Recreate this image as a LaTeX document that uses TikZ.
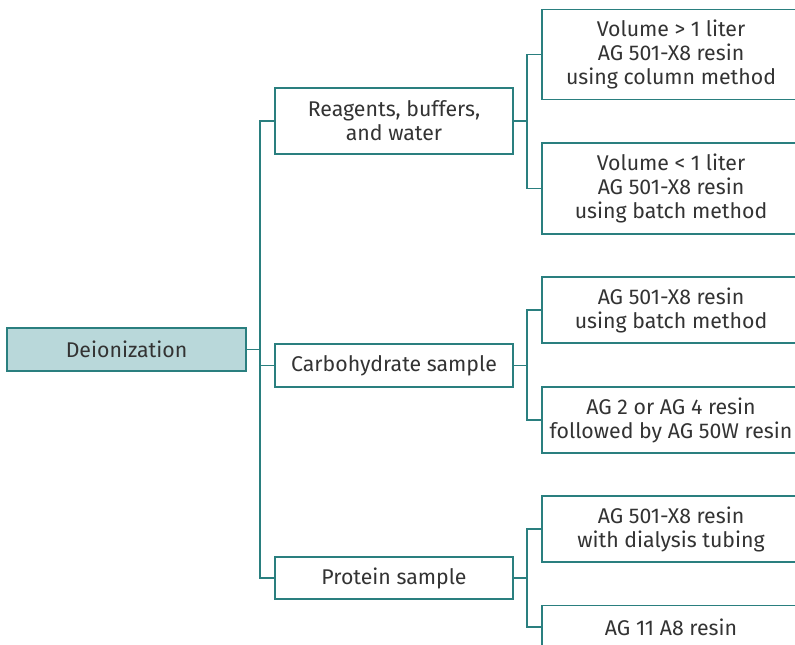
\documentclass[tikz,border=0pt]{standalone}
\usepackage{fontspec}
\setmainfont{Fira Sans}
\definecolor{teal1}{HTML}{2A7F7F}
\definecolor{fillA}{HTML}{B9D8DA}
\definecolor{txt}{HTML}{333333}
\begin{document}
\begin{tikzpicture}[x=1pt,y=-1pt,
  box/.style={draw=teal1,line width=1.4pt,fill=white,text=txt,align=center,inner sep=0pt,
    font=\fontsize{21.3}{24}\selectfont},
  midbox/.style={box,minimum width=238pt},
  rbox/.style={box,minimum width=258pt},
  conn/.style={draw=teal1,line width=1.4pt}]
\useasboundingbox (0,0) rectangle (795,645);
\clip (0,0) rectangle (795,645);
\node[box,fill=fillA,minimum width=239pt,minimum height=43pt] (dei) at (126.5,349.5) {Deionization};
\node[midbox,minimum height=66pt] (reag) at (394,121) {Reagents, buffers,\\and water};
\node[midbox,minimum height=43pt] (carb) at (394,365.5) {Carbohydrate sample};
\node[midbox,minimum height=42pt] (prot) at (394,578) {Protein sample};
\node[rbox,minimum height=90pt] (r1) at (671,54.5) {Volume > 1 liter\\AG 501-X8 resin\\using column method};
\node[rbox,minimum height=91pt] (r2) at (671,188.5) {Volume < 1 liter\\AG 501-X8 resin\\using batch method};
\node[rbox,minimum height=66pt] (r3) at (671,310) {AG 501-X8 resin\\using batch method};
\node[rbox,minimum height=66pt] (r4) at (671,420) {AG 2 or AG 4 resin\\followed by AG 50W resin};
\node[rbox,minimum height=66pt] (r5) at (671,529) {AG 501-X8 resin\\with dialysis tubing};
\node[rbox,minimum height=43pt] (r6) at (671,627) {AG 11 A8 resin};
\coordinate (tr) at (260,0);
\coordinate (br) at (527,0);
\draw[conn] (reag.west) -- (reag.west -| tr) -- (prot.west -| tr) -- (prot.west);
\draw[conn] (dei.east) -- (dei.east -| tr);
\draw[conn] (carb.west) -- (carb.west -| tr);
\draw[conn] (r1.west) -- (r1.west -| br) -- (r2.west -| br) -- (r2.west);
\draw[conn] (reag.east) -- (reag.east -| br);
\draw[conn] (r3.west) -- (r3.west -| br) -- (r4.west -| br) -- (r4.west);
\draw[conn] (carb.east) -- (carb.east -| br);
\draw[conn] (r5.west) -- (r5.west -| br) -- (r6.west -| br) -- (r6.west);
\draw[conn] (prot.east) -- (prot.east -| br);
\end{tikzpicture}
\end{document}
